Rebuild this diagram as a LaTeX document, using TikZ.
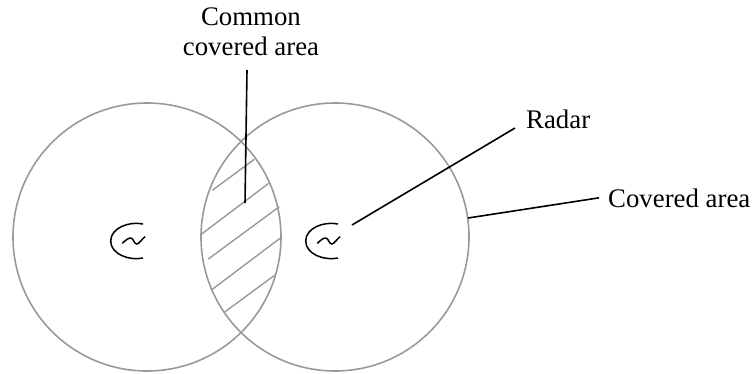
\documentclass[tikz,border=0pt]{standalone}
\usepackage{fontspec}
\setmainfont{Liberation Serif}
\usetikzlibrary{positioning}
\begin{document}
\begin{tikzpicture}[x=1pt,y=-1pt, every node/.style={font=\fontsize{26.8}{30}\selectfont},
  area/.style={circle,draw=black!40,line width=1.6pt,minimum size=268pt,inner sep=0pt},
  hatch/.style={draw=black!40,line width=1.4pt},
  leader/.style={draw=black,line width=1.6pt},
  radar/.pic={
    \draw[black,line width=1.5pt] (15,-17) .. controls (1,-20) and (-17.3,-13) .. (-17.3,0) .. controls (-17.3,13) and (1,20) .. (15,17);
    \draw[black,line width=1.5pt] (-5.7,2.3) .. controls (-2,-1) and (1,-4) .. (3.7,-2.7) .. controls (5.5,-1.5) and (6.5,3) .. (8.7,3) .. controls (11,3) and (14,-2) .. (17,-4.3);
  }]
  \useasboundingbox (0,0) rectangle (755,373);
  \node[area] (left) at (147,237) {};
  \node[area] (right) at (335,237) {};
  % hatching of the common part
  \foreach \xa/\ya/\xb/\yb in {212.3/190.3/254.3/159.3,201.7/234/268.7/183.3,208.3/259/279.3/206.7,212.3/289.3/280/238.3,224.3/312.3/275/275}
    \draw[hatch] (\xa,\ya)--(\xb,\yb);
  \pic at (128,241) {radar};
  \pic at (323,241) {radar};
  \node[align=center,anchor=base] (common) at (251,55) {Common\\covered area};
  \node[anchor=base west,inner sep=0pt] (radarlabel) at (526,128) {Radar};
  \node[anchor=base west,inner sep=9pt] (coveredlabel) at (599,207) {Covered area};
  \coordinate (commonstart) at (247,70);
  \coordinate (commonend) at (245,203);
  \coordinate (radarstart) at (515,128);
  \coordinate (radarend) at (352,225);
  \coordinate (coveredend) at (468,218);
  \draw[leader] (commonstart)--(commonend);
  \draw[leader] (radarstart)--(radarend);
  \draw[leader] (coveredlabel.west)--(coveredend);
\end{tikzpicture}
\end{document}
